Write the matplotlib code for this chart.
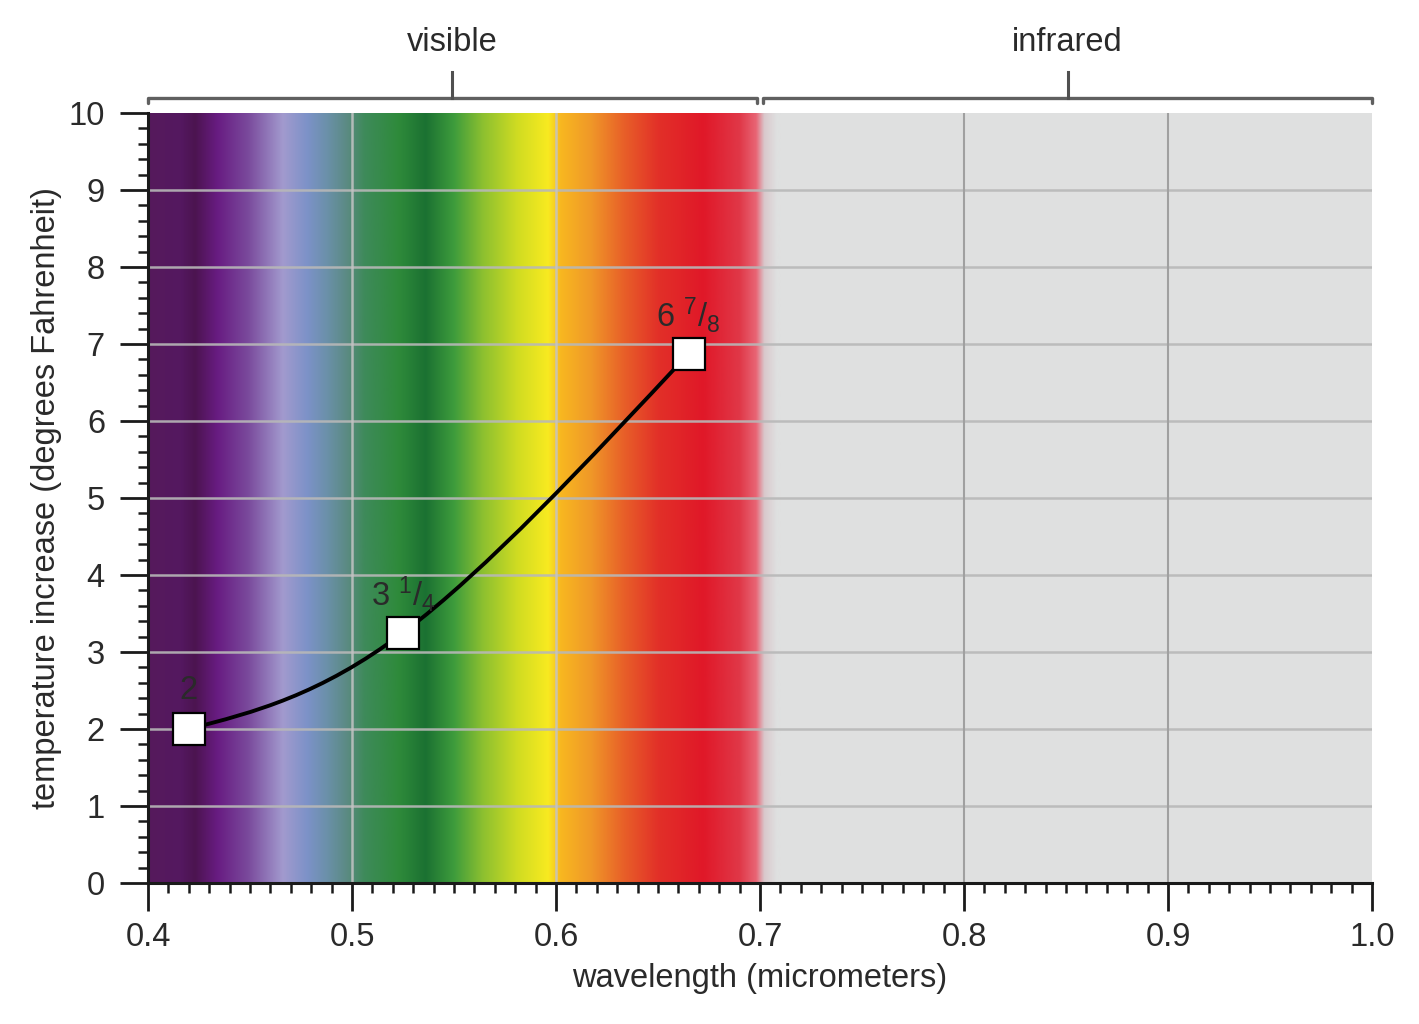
import numpy as np
import matplotlib
matplotlib.use('Agg')
import matplotlib.pyplot as plt
from matplotlib.colors import LinearSegmentedColormap
from matplotlib.path import Path
from matplotlib.patches import PathPatch
from matplotlib.ticker import MultipleLocator

plt.rcParams['font.family'] = ['Liberation Sans', 'DejaVu Sans']

# measured points
wavelength = [0.42, 0.525, 0.665]
temp_rise = [2.0, 3.25, 6.875]
point_labels = ['2', r'3 $\mathregular{^{1}/_{4}}$', r'6 $\mathregular{^{7}/_{8}}$']

# spectrum colour stops (wavelength, colour)
spec_w = [0.400, 0.416, 0.423, 0.434, 0.449, 0.466, 0.478, 0.488, 0.498, 0.506,
          0.523, 0.536, 0.550, 0.564, 0.581, 0.596, 0.602, 0.617, 0.633, 0.650,
          0.672, 0.690, 0.698, 0.702, 0.708, 0.710]
spec_c = ['#561a5c', '#541860', '#4c1450', '#681c82', '#7a4a9c', '#a29ace',
          '#7c92c8', '#6a90a8', '#5a8a80', '#3e8a5a', '#2e8a3a', '#1b7132',
          '#3e9c3c', '#8cc030', '#d0dc22', '#f8ea20', '#f8b820', '#f09828',
          '#e86028', '#e23028', '#e01828', '#e03848', '#e86575', '#d9c8cc',
          '#dfe0e0', '#dfe0e0']

bands = ['visible', 'infrared']
band_lo = [0.4, 0.7015]
band_hi = [0.6985, 1.0]

txt = '#2a2a2a'
fs = 23.5
fig = plt.figure(figsize=(14.19, 10.24), dpi=100)
ax = fig.add_axes([0.1043, 0.1377, 0.8626, 0.7519])
ax.set_facecolor('#dfe0e0')

w0, w1 = spec_w[0], spec_w[-1]
stops = [((w - w0) / (w1 - w0), c) for w, c in zip(spec_w, spec_c)]
cmap = LinearSegmentedColormap.from_list('spec', stops, N=1024)
grad = np.linspace(0, 1, 1024)[None, :]
ax.imshow(grad, cmap=cmap, extent=[w0, w1, 0, 10], aspect='auto',
          interpolation='bilinear', zorder=0)

ax.set_xlim(0.4, 1.0)
ax.set_ylim(0, 10)

# grid
for yv in range(1, 10):
    ax.axhline(yv, color='#b8b8b8', lw=1.8, alpha=0.9, zorder=1)
for xv in [0.5, 0.6]:
    ax.axvline(xv, color='#c4c4c4', lw=1.8, alpha=0.85, zorder=1)
for xv in [0.8, 0.9]:
    ax.axvline(xv, color='#a0a0a0', lw=1.5, zorder=1)

# smooth curve through the points (cubic Bezier, tangents from the points)
P = np.column_stack([wavelength, temp_rise])
T1 = (P[2] - P[0]) / 2
T0 = (3 * (P[1] - P[0]) - T1) / 2
T2 = (3 * (P[2] - P[1]) - T1) / 2
verts = [P[0], P[0] + T0 / 3, P[1] - T1 / 3, P[1],
         P[1] + T1 / 3, P[2] - T2 / 3, P[2]]
codes = [Path.MOVETO] + [Path.CURVE4] * 6
ax.add_patch(PathPatch(Path(verts, codes), fill=False, ec='black', lw=2.8, zorder=3))

ax.plot(wavelength, temp_rise, ls='none', marker='s', ms=23.5, mfc='white',
        mec='black', mew=1.6, zorder=4)
for x, y, lab in zip(wavelength, temp_rise, point_labels):
    ax.annotate(lab, (x, y), xytext=(0, 28), textcoords='offset points',
                ha='center', va='center', fontsize=fs, color=txt, zorder=5)

# axes styling
for s in ['top', 'right']:
    ax.spines[s].set_visible(False)
for s in ['left', 'bottom']:
    ax.spines[s].set_linewidth(2.2)
    ax.spines[s].set_color('#1a1a1a')
ax.xaxis.set_major_locator(MultipleLocator(0.1))
ax.xaxis.set_minor_locator(MultipleLocator(0.01))
ax.yaxis.set_major_locator(MultipleLocator(1))
ax.yaxis.set_minor_locator(MultipleLocator(0.2))
ax.set_xticks([0.4, 0.5, 0.6, 0.7, 0.8, 0.9, 1.0])
ax.set_xticklabels(['0.4', '0.5', '0.6', '0.7', '0.8', '0.9', '1.0'])
ax.tick_params(which='major', length=20, width=2, color='#1a1a1a',
               labelsize=fs, labelcolor=txt)
ax.tick_params(axis='x', which='major', pad=8)
ax.tick_params(axis='y', which='major', pad=11)
ax.tick_params(which='minor', length=7, width=1.8, color='#1a1a1a')
ax.set_xlabel('wavelength (micrometers)', fontsize=fs, color=txt, labelpad=7)
ax.set_ylabel('temperature increase (degrees Fahrenheit)', fontsize=fs,
              color=txt, labelpad=5)

# brackets above the plot
tr = ax.get_xaxis_transform()
yb = 1.0195
for lab, lo, hi in zip(bands, band_lo, band_hi):
    mid = (lo + hi) / 2
    ax.plot([lo, lo, hi, hi], [yb - 0.007, yb, yb, yb - 0.007], transform=tr,
            color='#606060', lw=2.4, clip_on=False, solid_capstyle='round')
    ax.plot([mid, mid], [yb, yb + 0.034], transform=tr, color='#505050',
            lw=2.2, clip_on=False)
    ax.text(mid, 1.091, lab, transform=tr, ha='center', va='center',
            fontsize=fs, color=txt)

fig.savefig('out.png', dpi=100)
